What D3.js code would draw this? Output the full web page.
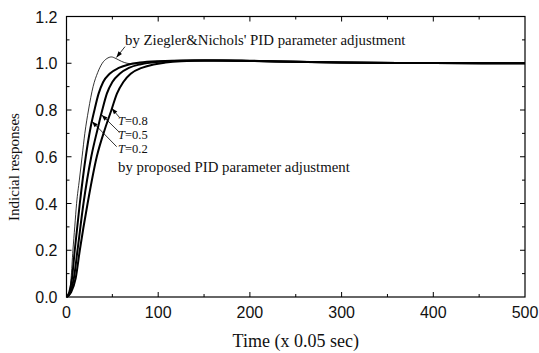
<!DOCTYPE html>
<html>
<head>
<meta charset="utf-8">
<script src="https://cdn.jsdelivr.net/npm/d3@7"></script>
<style>
  html, body { margin: 0; padding: 0; background: #fff; }
  svg { display: block; }
  .tick-lbl { font-family: "Liberation Sans", Arial, sans-serif; font-size: 16px; fill: #111; }
  .serif { font-family: "Liberation Serif", "Times New Roman", serif; fill: #111; }
</style>
</head>
<body>
<svg id="chart" width="539" height="353"></svg>
<script>
// step responses, time in units of 0.05 s
const ZN_T = [0,3,5,7,9,11,14,17,20,24,29,34,39,44,49,54,60,66,74,85,100,120,150,180,210,250,300,400,500];
const ZN_V = [0,0.02,0.08,0.2,0.3,0.4,0.5,0.6,0.7,0.8,0.9,0.96,1.0,1.02,1.027,1.02,1.008,1.0,0.997,0.999,1.005,1.01,1.012,1.011,1.009,1.006,1.003,1.001,1.0];

const P02_T = [0,3,6,9,14.5,21,26,30.5,35,40,47,57,68,80,100,130,160,200,250,300,400,500];
const P02_V = [0,0.02,0.08,0.2,0.4,0.6,0.72,0.8,0.87,0.92,0.955,0.98,0.995,1.003,1.009,1.012,1.012,1.01,1.006,1.003,1.001,1.0];

const P05_T = [0,4,8,12,18.5,27,34,39,44,50,58,68,80,92,110,140,170,200,250,300,400,500];
const P05_V = [0,0.02,0.08,0.2,0.4,0.6,0.72,0.8,0.87,0.92,0.955,0.98,0.995,1.003,1.009,1.012,1.012,1.01,1.006,1.003,1.001,1.0];

const P08_T = [0,5,10,14.5,23,33,42,49,55,62,70,82,95,108,125,150,180,210,250,300,400,500];
const P08_V = [0,0.02,0.08,0.2,0.4,0.6,0.72,0.8,0.87,0.92,0.955,0.98,0.995,1.003,1.009,1.012,1.012,1.01,1.006,1.003,1.001,1.0];

const X_TICKS = [0,100,200,300,400,500];
const X_MINOR = [50,150,250,350,450];
const Y_TICKS = [0,0.2,0.4,0.6,0.8,1.0,1.2];
const Y_MINOR = [0.1,0.3,0.5,0.7,0.9,1.1];

// annotations in data units
const T_LABELS = [["0.8", 56.2, 0.736], ["0.5", 56.2, 0.678], ["0.2", 56.2, 0.618]];
const ARROWS = [
  [63.8, 1.071, 54.5, 1.025],   // Ziegler&Nichols
  [57.6, 0.769, 49.3, 0.807],   // T=0.8
  [57.6, 0.705, 38.4, 0.779],   // T=0.5
  [54.7, 0.643, 27.8, 0.751]    // T=0.2
];

const L = 66.5, R = 525, TOP = 16.5, BOT = 297;
const svg = d3.select("#chart");
const x = d3.scaleLinear().domain([0,500]).range([L,R]);
const y = d3.scaleLinear().domain([0,1.2]).range([BOT,TOP]);

const g = svg.append("g");

// inward ticks on all four sides
function ticks(vals, len){
  vals.forEach(v=>{
    g.append("line").attr("x1",x(v)).attr("x2",x(v)).attr("y1",BOT).attr("y2",BOT-len).attr("stroke","#000");
    g.append("line").attr("x1",x(v)).attr("x2",x(v)).attr("y1",TOP).attr("y2",TOP+len).attr("stroke","#000");
  });
}
function yticks(vals, len){
  vals.forEach(v=>{
    g.append("line").attr("y1",y(v)).attr("y2",y(v)).attr("x1",L).attr("x2",L+len).attr("stroke","#000");
    g.append("line").attr("y1",y(v)).attr("y2",y(v)).attr("x1",R).attr("x2",R-len).attr("stroke","#000");
  });
}
ticks(X_TICKS.slice(1,-1), 5); ticks(X_MINOR, 3);
yticks(Y_TICKS.slice(1,-1), 5); yticks(Y_MINOR, 3);

g.append("rect").attr("x",L).attr("y",TOP).attr("width",R-L).attr("height",BOT-TOP)
  .attr("fill","none").attr("stroke","#000").attr("stroke-width",1.2);

g.selectAll(".xl").data(X_TICKS).enter().append("text").attr("class","tick-lbl")
  .attr("x",d=>x(d)).attr("y",BOT+20.5).attr("text-anchor","middle").text(d=>d);
g.selectAll(".yl").data(Y_TICKS).enter().append("text").attr("class","tick-lbl")
  .attr("x",L-9).attr("y",d=>y(d)+6).attr("text-anchor","end").text(d=>d.toFixed(1));

g.append("text").attr("class","serif").attr("font-size",18)
  .attr("x",(L+R)/2).attr("y",346.5).attr("text-anchor","middle").text("Time (x 0.05 sec)");
g.append("text").attr("class","serif").attr("font-size",15)
  .attr("transform","translate(19,167) rotate(-90)").attr("text-anchor","middle").text("Indicial responses");

// curves
const line = d3.line().x(d=>x(d[0])).y(d=>y(d[1])).curve(d3.curveMonotoneX);
const zip = (t,v) => t.map((d,i)=>[d,v[i]]);
const plot = svg.append("g").attr("fill","none").attr("stroke","#000");
plot.append("path").attr("d",line(zip(ZN_T,ZN_V))).attr("stroke-width",0.8);
[[P02_T,P02_V],[P05_T,P05_V],[P08_T,P08_V]].forEach(([t,v])=>
  plot.append("path").attr("d",line(zip(t,v))).attr("stroke-width",2).attr("stroke-linejoin","round"));

// annotations
svg.append("text").attr("class","serif").attr("font-size",14.8)
  .attr("x",x(63.8)).attr("y",y(1.076)).text("by Ziegler&Nichols' PID parameter adjustment");
svg.append("text").attr("class","serif").attr("font-size",14.8)
  .attr("x",x(56.2)).attr("y",y(0.536)).text("by proposed PID parameter adjustment");
T_LABELS.forEach(([v,t,val])=>{
  const tx = svg.append("text").attr("class","serif").attr("font-size",12.5)
    .attr("x",x(t)).attr("y",y(val));
  tx.append("tspan").attr("font-style","italic").text("T");
  tx.append("tspan").text("=" + v);
});
ARROWS.forEach(([t0,v0,t1,v1])=>{
  const x0=x(t0), y0=y(v0), x1=x(t1), y1=y(v1);
  svg.append("line").attr("x1",x0).attr("y1",y0).attr("x2",x1).attr("y2",y1)
    .attr("stroke","#000").attr("stroke-width",0.8);
  const a = Math.atan2(y1-y0, x1-x0), len = 6, w = 2.2;
  const bx = x1 - len*Math.cos(a), by = y1 - len*Math.sin(a);
  const px = -Math.sin(a)*w, py = Math.cos(a)*w;
  svg.append("path").attr("d",`M${x1},${y1}L${bx+px},${by+py}L${bx-px},${by-py}Z`).attr("fill","#000");
});
</script>
</body>
</html>
